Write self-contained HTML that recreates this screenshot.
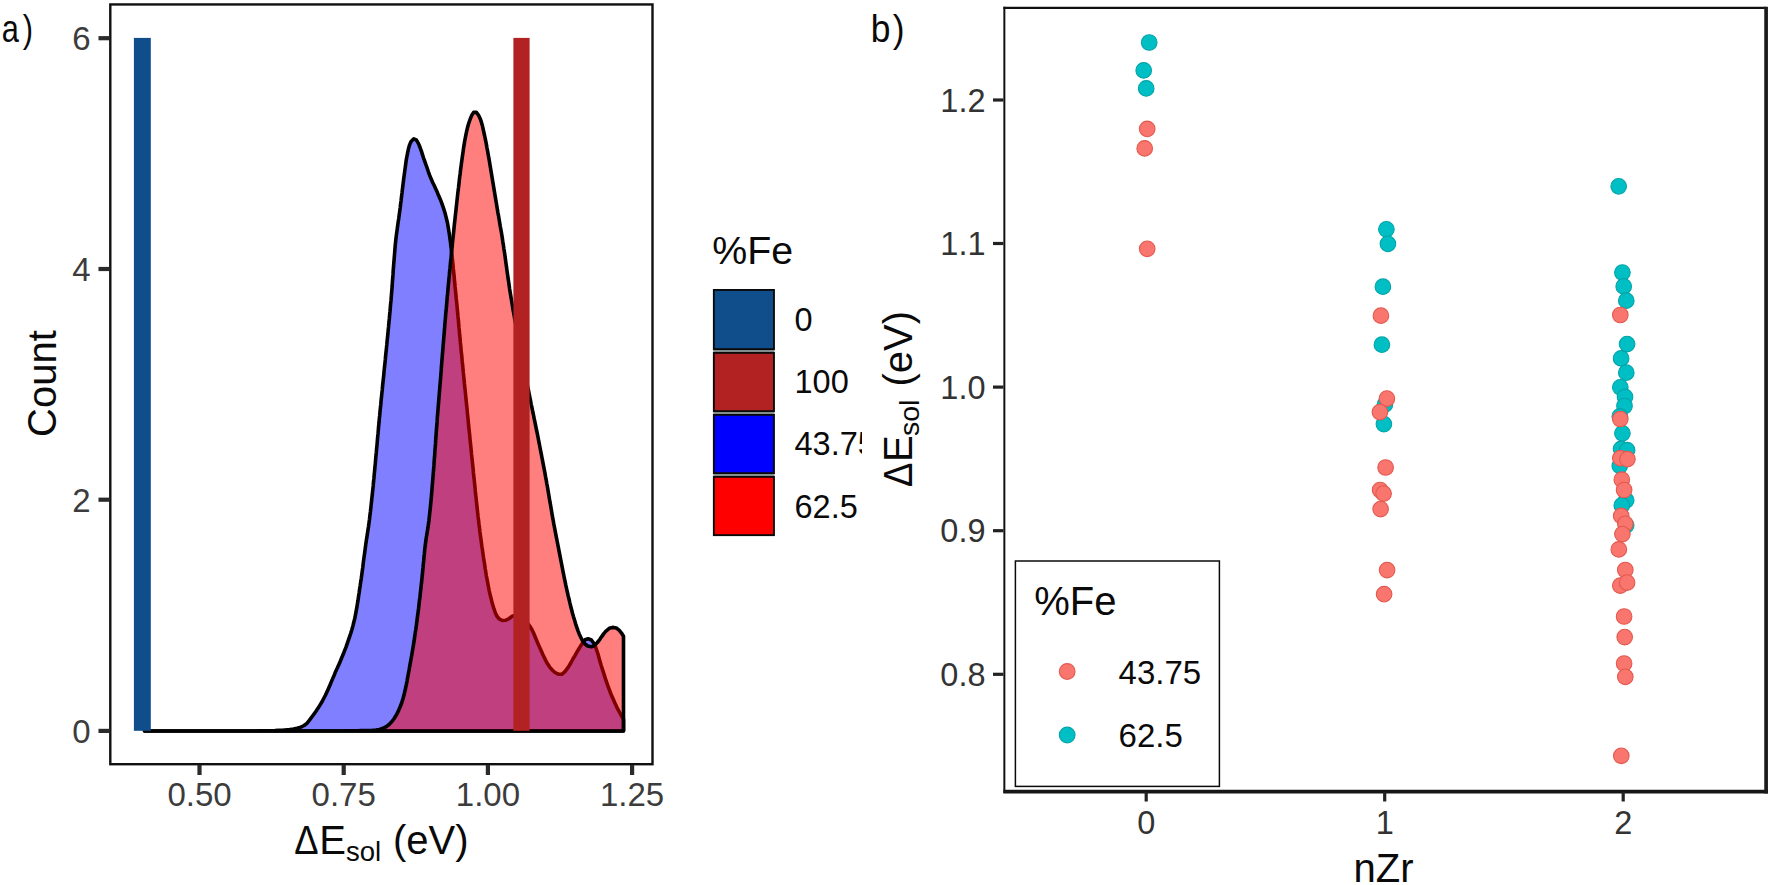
<!DOCTYPE html>
<html lang="en"><head><meta charset="utf-8"><title>Figure</title>
<style>html,body{margin:0;padding:0;background:#fff;overflow:hidden}svg{display:block}text{font-family:"Liberation Sans", sans-serif}.tk{font-size:33px;fill:#3c3c3c}.tkb{font-size:32.5px;fill:#333}.ti{font-size:40px;fill:#0a0a0a}.lg{font-size:32.5px;fill:#0a0a0a}</style></head><body>
<svg width="1770" height="885" viewBox="0 0 1770 885">
<rect x="0" y="0" width="1770" height="885" fill="#fff"/>
<defs><clipPath id="ca"><rect x="0" y="0" width="862" height="885"/></clipPath></defs>
<g clip-path="url(#ca)">
<text transform="translate(0,42.4) scale(0.78,1)" font-size="39.5" fill="#0a0a0a"><tspan x="2.4">a</tspan><tspan x="29.1">)</tspan></text>
<path d="M144.5 731.0 L148.2 731.0 L152.0 731.0 L155.7 731.0 L159.4 731.0 L163.1 731.0 L166.9 731.0 L170.6 731.0 L174.3 731.0 L178.0 731.0 L181.8 731.0 L185.5 731.0 L189.2 731.0 L192.9 731.0 L196.7 731.0 L200.4 731.0 L204.1 731.0 L207.8 731.0 L211.6 731.0 L215.3 731.0 L219.0 731.0 L222.8 731.0 L226.5 731.0 L230.2 731.0 L233.9 731.0 L237.7 731.0 L241.4 731.0 L245.1 731.0 L248.8 731.0 L252.6 731.0 L256.3 731.0 L260.0 730.9 L263.7 730.9 L267.5 730.8 L271.2 730.7 L274.9 730.6 L278.6 730.4 L282.4 730.2 L286.1 729.9 L289.8 729.5 L293.5 729.0 L297.1 728.3 L300.8 727.1 L304.1 725.5 L306.9 723.3 L309.3 720.4 L311.6 717.3 L313.8 714.2 L316.0 711.2 L318.1 708.1 L320.1 704.9 L322.0 701.8 L323.7 698.5 L325.4 695.2 L326.9 691.9 L328.5 688.4 L330.0 685.0 L331.4 681.6 L332.9 678.1 L334.4 674.7 L335.8 671.2 L337.4 667.8 L338.9 664.4 L340.4 661.0 L341.8 657.5 L343.3 654.1 L344.6 650.7 L346.0 647.2 L347.2 643.7 L348.4 640.2 L349.6 636.6 L350.8 633.1 L351.9 629.5 L352.9 625.9 L353.8 622.3 L354.7 618.7 L355.4 615.1 L356.1 611.4 L356.8 607.7 L357.4 604.1 L358.0 600.4 L358.5 596.7 L359.1 593.0 L359.6 589.3 L360.2 585.6 L360.7 581.9 L361.3 578.2 L361.8 574.5 L362.3 570.8 L362.8 567.2 L363.2 563.5 L363.7 559.8 L364.2 556.1 L364.7 552.4 L365.2 548.7 L365.7 545.0 L366.2 541.3 L366.8 537.6 L367.4 533.9 L367.9 530.3 L368.5 526.6 L369.0 522.9 L369.5 519.2 L369.9 515.5 L370.4 511.8 L370.8 508.1 L371.2 504.4 L371.6 500.7 L372.0 497.0 L372.4 493.3 L372.8 489.6 L373.2 485.9 L373.5 482.2 L373.9 478.5 L374.2 474.8 L374.6 471.1 L374.9 467.3 L375.3 463.6 L375.6 459.9 L375.9 456.2 L376.3 452.5 L376.6 448.8 L377.0 445.1 L377.3 441.4 L377.6 437.6 L378.0 433.9 L378.3 430.2 L378.6 426.5 L379.0 422.8 L379.3 419.1 L379.7 415.4 L380.0 411.7 L380.4 407.9 L380.8 404.2 L381.1 400.5 L381.5 396.8 L381.9 393.1 L382.3 389.4 L382.6 385.7 L383.0 382.0 L383.4 378.3 L383.8 374.6 L384.1 370.9 L384.5 367.2 L384.9 363.5 L385.3 359.7 L385.6 356.0 L386.0 352.3 L386.4 348.6 L386.8 344.9 L387.1 341.2 L387.5 337.5 L387.9 333.8 L388.2 330.1 L388.6 326.4 L388.9 322.7 L389.3 319.0 L389.6 315.3 L390.0 311.5 L390.3 307.8 L390.6 304.1 L391.0 300.4 L391.3 296.7 L391.6 293.0 L391.9 289.3 L392.2 285.5 L392.4 281.8 L392.7 278.1 L393.0 274.4 L393.2 270.7 L393.5 266.9 L393.8 263.2 L394.1 259.5 L394.4 255.8 L394.7 252.1 L395.0 248.4 L395.3 244.7 L395.7 241.0 L396.1 237.3 L396.6 233.6 L397.1 229.9 L397.6 226.2 L398.1 222.5 L398.7 218.8 L399.2 215.1 L399.7 211.4 L400.2 207.7 L400.6 204.0 L401.1 200.4 L401.5 196.7 L402.0 193.0 L402.4 189.3 L402.9 185.6 L403.3 181.9 L403.8 178.1 L404.3 174.4 L404.8 170.7 L405.3 167.0 L405.8 163.3 L406.3 159.6 L407.0 156.0 L407.7 152.4 L408.5 148.7 L409.5 145.1 L410.9 141.7 L413.8 138.8 L416.3 139.8 L418.5 143.6 L420.0 147.3 L421.3 150.9 L422.4 154.4 L423.5 157.8 L424.7 161.2 L425.9 164.7 L427.2 168.2 L428.4 171.8 L429.7 175.3 L431.1 178.8 L432.6 182.2 L434.2 185.6 L435.8 189.0 L437.3 192.3 L438.7 195.8 L440.2 199.2 L441.6 202.7 L442.8 206.2 L444.0 209.7 L445.1 213.3 L446.0 216.9 L446.9 220.5 L447.7 224.2 L448.3 227.8 L448.9 231.5 L449.5 235.2 L450.0 238.9 L450.5 242.6 L450.9 246.3 L451.4 250.0 L451.8 253.7 L452.2 257.4 L452.6 261.1 L453.0 264.8 L453.3 268.5 L453.7 272.2 L454.1 275.9 L454.4 279.6 L454.8 283.3 L455.1 287.0 L455.5 290.8 L455.9 294.5 L456.2 298.2 L456.6 301.9 L457.0 305.6 L457.3 309.3 L457.7 313.0 L458.0 316.7 L458.4 320.4 L458.7 324.1 L459.0 327.9 L459.4 331.6 L459.7 335.3 L460.1 339.0 L460.4 342.7 L460.8 346.4 L461.1 350.1 L461.5 353.8 L461.9 357.5 L462.2 361.2 L462.6 364.9 L463.0 368.7 L463.3 372.4 L463.7 376.1 L464.1 379.8 L464.4 383.5 L464.8 387.2 L465.2 390.9 L465.6 394.6 L465.9 398.3 L466.3 402.0 L466.7 405.7 L467.1 409.4 L467.4 413.1 L467.8 416.8 L468.2 420.6 L468.5 424.3 L468.9 428.0 L469.3 431.7 L469.7 435.4 L470.0 439.1 L470.4 442.8 L470.8 446.5 L471.2 450.2 L471.5 453.9 L471.9 457.6 L472.3 461.3 L472.7 465.0 L473.1 468.7 L473.4 472.5 L473.8 476.2 L474.2 479.9 L474.6 483.6 L475.0 487.3 L475.3 491.0 L475.7 494.7 L476.1 498.4 L476.5 502.1 L476.9 505.8 L477.3 509.5 L477.7 513.2 L478.1 516.9 L478.6 520.6 L479.0 524.3 L479.5 528.0 L479.9 531.7 L480.4 535.4 L480.9 539.1 L481.4 542.8 L481.9 546.5 L482.5 550.2 L483.0 553.9 L483.5 557.6 L484.1 561.2 L484.7 564.9 L485.2 568.6 L485.8 572.3 L486.4 576.0 L487.1 579.7 L487.8 583.3 L488.5 587.0 L489.2 590.6 L490.0 594.2 L490.9 597.8 L491.8 601.4 L492.8 605.0 L493.9 608.7 L495.2 612.4 L496.8 615.9 L498.8 618.6 L502.2 620.5 L505.7 620.3 L509.2 618.5 L512.3 616.1 L515.7 615.7 L519.5 616.8 L522.7 618.5 L525.6 621.0 L528.1 623.9 L530.3 626.8 L532.1 630.0 L533.7 633.3 L535.1 636.7 L536.6 640.3 L538.0 643.8 L539.6 647.2 L541.2 650.7 L542.7 654.2 L544.3 657.6 L545.9 660.9 L547.7 664.1 L549.7 667.1 L552.2 670.0 L555.0 672.5 L558.4 674.2 L561.8 674.3 L564.7 671.9 L567.2 668.7 L569.3 665.5 L571.1 662.3 L572.9 659.0 L574.8 655.9 L576.6 652.7 L578.5 649.5 L580.4 646.3 L582.6 643.0 L585.0 639.7 L588.1 638.8 L591.4 640.0 L593.6 643.0 L595.4 646.7 L596.7 650.2 L597.9 653.8 L598.9 657.4 L599.9 660.9 L600.9 664.5 L602.0 668.0 L603.2 671.6 L604.3 675.1 L605.4 678.7 L606.6 682.2 L607.8 685.7 L609.1 689.2 L610.4 692.7 L611.9 696.2 L613.4 699.6 L614.9 703.0 L616.5 706.4 L618.1 709.7 L619.9 713.0 L621.6 716.2 L623.5 719.5 L623.5 731.0 Z" fill="#0000FF" fill-opacity="0.5" stroke="#000" stroke-width="3.6" stroke-linejoin="round"/>
<path d="M144.5 731.0 L148.2 731.0 L151.8 731.0 L155.5 731.0 L159.2 731.0 L162.9 731.0 L166.5 731.0 L170.2 731.0 L173.9 731.0 L177.6 731.0 L181.2 731.0 L184.9 731.0 L188.6 731.0 L192.2 731.0 L195.9 731.0 L199.6 731.0 L203.3 731.0 L206.9 731.0 L210.6 731.0 L214.3 731.0 L218.0 731.0 L221.6 731.0 L225.3 731.0 L229.0 731.0 L232.6 731.0 L236.3 731.0 L240.0 731.0 L243.7 731.0 L247.3 731.0 L251.0 731.0 L254.7 731.0 L258.4 731.0 L262.0 731.0 L265.7 731.0 L269.4 731.0 L273.0 731.0 L276.7 731.0 L280.4 731.0 L284.1 731.0 L287.7 731.0 L291.4 731.0 L295.1 731.0 L298.8 731.0 L302.4 731.0 L306.1 731.0 L309.8 731.0 L313.4 731.0 L317.1 731.0 L320.8 731.0 L324.5 731.0 L328.1 731.0 L331.8 731.0 L335.5 731.0 L339.1 731.0 L342.8 731.0 L346.5 730.9 L350.2 730.8 L353.8 730.8 L357.5 730.7 L361.2 730.6 L364.9 730.6 L368.5 730.5 L372.2 730.4 L375.9 730.1 L379.5 729.5 L383.1 728.3 L386.3 726.6 L389.1 724.5 L391.7 721.8 L394.0 718.7 L396.0 715.6 L397.7 712.4 L399.2 709.0 L400.7 705.6 L401.9 702.1 L403.0 698.6 L404.0 695.1 L404.8 691.6 L405.6 688.0 L406.4 684.4 L407.1 680.8 L407.7 677.1 L408.4 673.5 L409.1 669.9 L409.7 666.3 L410.4 662.7 L411.0 659.0 L411.7 655.4 L412.3 651.8 L412.9 648.2 L413.5 644.6 L414.1 640.9 L414.6 637.3 L415.1 633.7 L415.7 630.0 L416.2 626.4 L416.7 622.8 L417.2 619.1 L417.6 615.5 L418.1 611.9 L418.6 608.2 L419.0 604.6 L419.4 600.9 L419.9 597.3 L420.3 593.6 L420.7 590.0 L421.1 586.3 L421.5 582.7 L421.9 579.0 L422.3 575.3 L422.6 571.7 L423.0 568.0 L423.3 564.4 L423.7 560.7 L424.0 557.1 L424.4 553.4 L424.7 549.8 L425.2 546.1 L425.6 542.5 L426.1 538.8 L426.7 535.2 L427.3 531.6 L427.9 527.9 L428.4 524.3 L428.9 520.7 L429.3 517.0 L429.7 513.4 L430.1 509.8 L430.5 506.1 L430.8 502.5 L431.2 498.8 L431.5 495.2 L431.8 491.5 L432.1 487.8 L432.4 484.2 L432.7 480.5 L433.0 476.9 L433.3 473.2 L433.6 469.5 L433.9 465.9 L434.1 462.2 L434.4 458.5 L434.7 454.9 L434.9 451.2 L435.2 447.5 L435.5 443.9 L435.7 440.2 L436.0 436.5 L436.2 432.9 L436.5 429.2 L436.8 425.5 L437.1 421.9 L437.3 418.2 L437.6 414.5 L437.9 410.9 L438.2 407.2 L438.5 403.5 L438.8 399.9 L439.1 396.2 L439.4 392.6 L439.7 388.9 L440.0 385.2 L440.3 381.6 L440.6 377.9 L440.9 374.2 L441.2 370.6 L441.4 366.9 L441.7 363.3 L442.0 359.6 L442.3 355.9 L442.6 352.3 L442.9 348.6 L443.2 345.0 L443.5 341.3 L443.8 337.6 L444.1 334.0 L444.4 330.3 L444.7 326.7 L445.0 323.0 L445.3 319.3 L445.6 315.7 L445.9 312.0 L446.3 308.4 L446.6 304.7 L446.9 301.1 L447.2 297.4 L447.6 293.7 L447.9 290.1 L448.2 286.4 L448.6 282.8 L448.9 279.1 L449.3 275.5 L449.6 271.8 L450.0 268.2 L450.3 264.5 L450.7 260.8 L451.1 257.2 L451.4 253.5 L451.8 249.9 L452.2 246.2 L452.5 242.6 L452.9 238.9 L453.3 235.3 L453.7 231.6 L454.0 228.0 L454.4 224.3 L454.8 220.7 L455.2 217.0 L455.6 213.4 L456.0 209.7 L456.4 206.1 L456.8 202.4 L457.2 198.8 L457.6 195.1 L458.0 191.5 L458.5 187.8 L458.9 184.2 L459.3 180.5 L459.7 176.9 L460.2 173.2 L460.6 169.6 L461.1 165.9 L461.6 162.3 L462.1 158.6 L462.6 155.0 L463.1 151.4 L463.6 147.8 L464.2 144.1 L464.8 140.5 L465.5 136.9 L466.2 133.3 L467.0 129.7 L467.9 126.1 L469.0 122.5 L470.2 119.1 L471.5 115.8 L473.6 112.4 L476.4 112.4 L478.7 115.5 L480.2 118.7 L481.4 122.2 L482.4 125.7 L483.2 129.3 L484.0 133.0 L484.8 136.6 L485.6 140.3 L486.3 143.9 L486.9 147.5 L487.6 151.1 L488.2 154.7 L488.9 158.3 L489.5 161.9 L490.1 165.5 L490.7 169.1 L491.3 172.7 L491.9 176.4 L492.5 180.0 L493.1 183.6 L493.7 187.3 L494.3 190.9 L494.9 194.5 L495.5 198.1 L496.1 201.7 L496.7 205.4 L497.3 209.0 L497.9 212.6 L498.6 216.2 L499.2 219.8 L499.8 223.5 L500.4 227.1 L501.1 230.7 L501.7 234.3 L502.3 237.9 L502.8 241.6 L503.4 245.2 L503.9 248.8 L504.5 252.5 L505.0 256.1 L505.5 259.7 L506.0 263.4 L506.5 267.0 L507.0 270.7 L507.5 274.3 L508.0 277.9 L508.6 281.6 L509.1 285.2 L509.6 288.8 L510.2 292.5 L510.8 296.1 L511.4 299.7 L512.0 303.3 L512.6 307.0 L513.2 310.6 L513.9 314.2 L514.5 317.8 L515.2 321.4 L515.9 325.0 L516.5 328.6 L517.2 332.2 L517.9 335.9 L518.6 339.5 L519.3 343.1 L519.9 346.7 L520.6 350.3 L521.3 353.9 L522.0 357.5 L522.7 361.1 L523.4 364.7 L524.1 368.3 L524.8 371.9 L525.5 375.5 L526.2 379.1 L526.9 382.7 L527.6 386.3 L528.4 389.9 L529.1 393.5 L529.8 397.1 L530.5 400.7 L531.2 404.3 L532.0 407.9 L532.7 411.5 L533.5 415.1 L534.2 418.7 L535.0 422.3 L535.7 425.9 L536.4 429.5 L537.2 433.1 L537.9 436.7 L538.6 440.3 L539.3 443.9 L540.0 447.5 L540.7 451.1 L541.4 454.7 L542.1 458.3 L542.8 461.9 L543.5 465.6 L544.2 469.2 L544.9 472.8 L545.5 476.4 L546.2 480.0 L546.8 483.6 L547.5 487.2 L548.1 490.9 L548.7 494.5 L549.3 498.1 L549.9 501.7 L550.6 505.3 L551.2 509.0 L551.8 512.6 L552.4 516.2 L553.1 519.8 L553.7 523.4 L554.4 527.0 L555.1 530.6 L555.8 534.3 L556.5 537.9 L557.2 541.5 L557.9 545.1 L558.6 548.7 L559.3 552.3 L560.0 555.9 L560.7 559.5 L561.4 563.1 L562.1 566.7 L562.8 570.3 L563.5 573.9 L564.2 577.5 L565.0 581.1 L565.7 584.7 L566.5 588.3 L567.3 591.9 L568.1 595.5 L569.0 599.0 L569.8 602.6 L570.7 606.2 L571.6 609.8 L572.5 613.3 L573.5 616.8 L574.6 620.3 L575.6 623.8 L576.8 627.3 L578.0 630.8 L579.3 634.2 L580.9 637.6 L582.7 641.0 L585.0 644.0 L587.7 646.0 L591.4 646.8 L594.5 645.4 L597.3 642.5 L599.7 639.6 L601.7 636.6 L603.8 633.6 L606.3 630.8 L609.3 628.3 L612.6 627.4 L616.3 628.0 L619.1 630.1 L621.5 633.1 L623.5 636.2 L623.5 731.0 Z" fill="#FF0000" fill-opacity="0.5" stroke="#000" stroke-width="3.6" stroke-linejoin="round"/>
<rect x="133.9" y="37.9" width="16.9" height="692.9" fill="#104E8B"/>
<rect x="513.4" y="37.9" width="16.2" height="692.9" fill="#B22222"/>
<rect x="110.3" y="4.45" width="542.2" height="759.75" fill="none" stroke="#101010" stroke-width="2.4"/>
<line x1="98.5" x2="109.4" y1="38.2" y2="38.2" stroke="#2b2b2b" stroke-width="4.2"/>
<text class="tk" x="90.5" y="50.0" text-anchor="end">6</text>
<line x1="98.5" x2="109.4" y1="269.0" y2="269.0" stroke="#2b2b2b" stroke-width="4.2"/>
<text class="tk" x="90.5" y="280.8" text-anchor="end">4</text>
<line x1="98.5" x2="109.4" y1="499.7" y2="499.7" stroke="#2b2b2b" stroke-width="4.2"/>
<text class="tk" x="90.5" y="511.5" text-anchor="end">2</text>
<line x1="98.5" x2="109.4" y1="730.9" y2="730.9" stroke="#2b2b2b" stroke-width="4.2"/>
<text class="tk" x="90.5" y="742.7" text-anchor="end">0</text>
<line x1="199.5" x2="199.5" y1="765" y2="775" stroke="#2b2b2b" stroke-width="4.2"/>
<text class="tk" x="199.5" y="806.2" text-anchor="middle">0.50</text>
<line x1="343.7" x2="343.7" y1="765" y2="775" stroke="#2b2b2b" stroke-width="4.2"/>
<text class="tk" x="343.7" y="806.2" text-anchor="middle">0.75</text>
<line x1="487.9" x2="487.9" y1="765" y2="775" stroke="#2b2b2b" stroke-width="4.2"/>
<text class="tk" x="487.9" y="806.2" text-anchor="middle">1.00</text>
<line x1="632.1" x2="632.1" y1="765" y2="775" stroke="#2b2b2b" stroke-width="4.2"/>
<text class="tk" x="632.1" y="806.2" text-anchor="middle">1.25</text>
<text class="ti" transform="translate(56,383.5) rotate(-90)" text-anchor="middle">Count</text>
<text class="ti" y="853.6"><tspan x="294.3" textLength="24.3" lengthAdjust="spacingAndGlyphs">Δ</tspan><tspan x="319.2">E</tspan><tspan x="346" dy="7.2" font-size="27.5">sol</tspan><tspan dy="-7.2"> </tspan><tspan x="393">(eV)</tspan></text>
<text x="712.2" y="264" font-size="39.3" fill="#0a0a0a">%Fe</text>
<rect x="713.4" y="290" width="61" height="246" fill="#8f9b9b"/>
<rect x="713.85" y="289.95" width="60.1" height="59.20" fill="#104E8B" stroke="#0a0a0a" stroke-width="1.9"/>
<text class="lg" x="794.5" y="331.2">0</text>
<rect x="713.85" y="352.85" width="60.1" height="58.30" fill="#B22222" stroke="#0a0a0a" stroke-width="1.9"/>
<text class="lg" x="794.5" y="393.3">100</text>
<rect x="713.85" y="414.85" width="60.1" height="58.30" fill="#0000FF" stroke="#0a0a0a" stroke-width="1.9"/>
<text class="lg" x="794.5" y="455.4">43.75</text>
<rect x="713.85" y="476.85" width="60.1" height="58.30" fill="#FF0000" stroke="#0a0a0a" stroke-width="1.9"/>
<text class="lg" x="794.5" y="517.5">62.5</text>
</g>
<text transform="translate(0,41.9) scale(0.92,1)" font-size="38.5" fill="#0a0a0a"><tspan x="946.5">b</tspan><tspan x="970.5">)</tspan></text>
<circle cx="1149.2" cy="42.5" r="7.8" fill="#00BFC4" stroke="#00A4A9" stroke-width="1.1"/>
<circle cx="1143.7" cy="70.4" r="7.8" fill="#00BFC4" stroke="#00A4A9" stroke-width="1.1"/>
<circle cx="1146.2" cy="88.4" r="7.8" fill="#00BFC4" stroke="#00A4A9" stroke-width="1.1"/>
<circle cx="1147.2" cy="128.9" r="7.8" fill="#F8766D" stroke="#E3594F" stroke-width="1.1"/>
<circle cx="1144.7" cy="148.4" r="7.8" fill="#F8766D" stroke="#E3594F" stroke-width="1.1"/>
<circle cx="1147.2" cy="248.8" r="7.8" fill="#F8766D" stroke="#E3594F" stroke-width="1.1"/>
<circle cx="1386.4" cy="229.3" r="7.8" fill="#00BFC4" stroke="#00A4A9" stroke-width="1.1"/>
<circle cx="1387.9" cy="243.8" r="7.8" fill="#00BFC4" stroke="#00A4A9" stroke-width="1.1"/>
<circle cx="1382.9" cy="286.7" r="7.8" fill="#00BFC4" stroke="#00A4A9" stroke-width="1.1"/>
<circle cx="1381.9" cy="344.7" r="7.8" fill="#00BFC4" stroke="#00A4A9" stroke-width="1.1"/>
<circle cx="1384.9" cy="404.6" r="7.8" fill="#00BFC4" stroke="#00A4A9" stroke-width="1.1"/>
<circle cx="1383.9" cy="424.1" r="7.8" fill="#00BFC4" stroke="#00A4A9" stroke-width="1.1"/>
<circle cx="1380.9" cy="315.7" r="7.8" fill="#F8766D" stroke="#E3594F" stroke-width="1.1"/>
<circle cx="1386.9" cy="398.6" r="7.8" fill="#F8766D" stroke="#E3594F" stroke-width="1.1"/>
<circle cx="1379.9" cy="412.1" r="7.8" fill="#F8766D" stroke="#E3594F" stroke-width="1.1"/>
<circle cx="1385.6" cy="467.5" r="7.8" fill="#F8766D" stroke="#E3594F" stroke-width="1.1"/>
<circle cx="1380.1" cy="490.0" r="7.8" fill="#F8766D" stroke="#E3594F" stroke-width="1.1"/>
<circle cx="1383.6" cy="493.6" r="7.8" fill="#F8766D" stroke="#E3594F" stroke-width="1.1"/>
<circle cx="1380.6" cy="509.1" r="7.8" fill="#F8766D" stroke="#E3594F" stroke-width="1.1"/>
<circle cx="1387.1" cy="570.1" r="7.8" fill="#F8766D" stroke="#E3594F" stroke-width="1.1"/>
<circle cx="1384.1" cy="594.2" r="7.8" fill="#F8766D" stroke="#E3594F" stroke-width="1.1"/>
<circle cx="1618.7" cy="186.3" r="7.8" fill="#00BFC4" stroke="#00A4A9" stroke-width="1.1"/>
<circle cx="1622.4" cy="272.6" r="7.8" fill="#00BFC4" stroke="#00A4A9" stroke-width="1.1"/>
<circle cx="1623.7" cy="286.4" r="7.8" fill="#00BFC4" stroke="#00A4A9" stroke-width="1.1"/>
<circle cx="1626.3" cy="300.7" r="7.8" fill="#00BFC4" stroke="#00A4A9" stroke-width="1.1"/>
<circle cx="1627.1" cy="344.1" r="7.8" fill="#00BFC4" stroke="#00A4A9" stroke-width="1.1"/>
<circle cx="1621.1" cy="358.4" r="7.8" fill="#00BFC4" stroke="#00A4A9" stroke-width="1.1"/>
<circle cx="1626.3" cy="372.7" r="7.8" fill="#00BFC4" stroke="#00A4A9" stroke-width="1.1"/>
<circle cx="1620.3" cy="387.3" r="7.8" fill="#00BFC4" stroke="#00A4A9" stroke-width="1.1"/>
<circle cx="1625.0" cy="396.9" r="7.8" fill="#00BFC4" stroke="#00A4A9" stroke-width="1.1"/>
<circle cx="1624.5" cy="406.0" r="7.8" fill="#00BFC4" stroke="#00A4A9" stroke-width="1.1"/>
<circle cx="1619.8" cy="416.4" r="7.8" fill="#00BFC4" stroke="#00A4A9" stroke-width="1.1"/>
<circle cx="1622.4" cy="433.3" r="7.8" fill="#00BFC4" stroke="#00A4A9" stroke-width="1.1"/>
<circle cx="1621.1" cy="448.9" r="7.8" fill="#00BFC4" stroke="#00A4A9" stroke-width="1.1"/>
<circle cx="1627.1" cy="450.2" r="7.8" fill="#00BFC4" stroke="#00A4A9" stroke-width="1.1"/>
<circle cx="1619.8" cy="465.8" r="7.8" fill="#00BFC4" stroke="#00A4A9" stroke-width="1.1"/>
<circle cx="1626.2" cy="500.3" r="7.8" fill="#00BFC4" stroke="#00A4A9" stroke-width="1.1"/>
<circle cx="1621.8" cy="505.3" r="7.8" fill="#00BFC4" stroke="#00A4A9" stroke-width="1.1"/>
<circle cx="1626.2" cy="525.3" r="7.8" fill="#00BFC4" stroke="#00A4A9" stroke-width="1.1"/>
<circle cx="1620.3" cy="315.0" r="7.8" fill="#F8766D" stroke="#E3594F" stroke-width="1.1"/>
<circle cx="1620.3" cy="419.0" r="7.8" fill="#F8766D" stroke="#E3594F" stroke-width="1.1"/>
<circle cx="1620.3" cy="458.2" r="7.8" fill="#F8766D" stroke="#E3594F" stroke-width="1.1"/>
<circle cx="1627.4" cy="459.2" r="7.8" fill="#F8766D" stroke="#E3594F" stroke-width="1.1"/>
<circle cx="1621.8" cy="479.7" r="7.8" fill="#F8766D" stroke="#E3594F" stroke-width="1.1"/>
<circle cx="1624.1" cy="490.0" r="7.8" fill="#F8766D" stroke="#E3594F" stroke-width="1.1"/>
<circle cx="1621.2" cy="515.9" r="7.8" fill="#F8766D" stroke="#E3594F" stroke-width="1.1"/>
<circle cx="1625.3" cy="523.8" r="7.8" fill="#F8766D" stroke="#E3594F" stroke-width="1.1"/>
<circle cx="1622.4" cy="534.1" r="7.8" fill="#F8766D" stroke="#E3594F" stroke-width="1.1"/>
<circle cx="1618.8" cy="549.4" r="7.8" fill="#F8766D" stroke="#E3594F" stroke-width="1.1"/>
<circle cx="1625.3" cy="570.0" r="7.8" fill="#F8766D" stroke="#E3594F" stroke-width="1.1"/>
<circle cx="1620.3" cy="585.6" r="7.8" fill="#F8766D" stroke="#E3594F" stroke-width="1.1"/>
<circle cx="1627.1" cy="582.6" r="7.8" fill="#F8766D" stroke="#E3594F" stroke-width="1.1"/>
<circle cx="1624.1" cy="616.5" r="7.8" fill="#F8766D" stroke="#E3594F" stroke-width="1.1"/>
<circle cx="1624.7" cy="637.1" r="7.8" fill="#F8766D" stroke="#E3594F" stroke-width="1.1"/>
<circle cx="1624.1" cy="663.5" r="7.8" fill="#F8766D" stroke="#E3594F" stroke-width="1.1"/>
<circle cx="1625.3" cy="676.8" r="7.8" fill="#F8766D" stroke="#E3594F" stroke-width="1.1"/>
<circle cx="1621.3" cy="755.8" r="7.8" fill="#F8766D" stroke="#E3594F" stroke-width="1.1"/>
<line x1="1003.4" x2="1766" y1="7.9" y2="7.9" stroke="#111" stroke-width="2.2"/>
<line x1="1004.35" x2="1004.35" y1="6.8" y2="793" stroke="#111" stroke-width="2"/>
<line x1="1003.35" x2="1768" y1="791.7" y2="791.7" stroke="#161616" stroke-width="3.7"/>
<line x1="1766.1" x2="1766.1" y1="6.8" y2="793.5" stroke="#1c1c1c" stroke-width="3.7"/>
<line x1="993" x2="1003.4" y1="100.0" y2="100.0" stroke="#222" stroke-width="3.2"/>
<text class="tkb" x="985.5" y="111.6" text-anchor="end">1.2</text>
<line x1="993" x2="1003.4" y1="243.5" y2="243.5" stroke="#222" stroke-width="3.2"/>
<text class="tkb" x="985.5" y="255.1" text-anchor="end">1.1</text>
<line x1="993" x2="1003.4" y1="387.1" y2="387.1" stroke="#222" stroke-width="3.2"/>
<text class="tkb" x="985.5" y="398.7" text-anchor="end">1.0</text>
<line x1="993" x2="1003.4" y1="530.7" y2="530.7" stroke="#222" stroke-width="3.2"/>
<text class="tkb" x="985.5" y="542.3" text-anchor="end">0.9</text>
<line x1="993" x2="1003.4" y1="674.3" y2="674.3" stroke="#222" stroke-width="3.2"/>
<text class="tkb" x="985.5" y="685.9" text-anchor="end">0.8</text>
<line x1="1146.2" x2="1146.2" y1="792" y2="801.5" stroke="#222" stroke-width="3.2"/>
<text class="tkb" x="1146.2" y="833.6" text-anchor="middle">0</text>
<line x1="1384.7" x2="1384.7" y1="792" y2="801.5" stroke="#222" stroke-width="3.2"/>
<text class="tkb" x="1384.7" y="833.6" text-anchor="middle">1</text>
<line x1="1623.2" x2="1623.2" y1="792" y2="801.5" stroke="#222" stroke-width="3.2"/>
<text class="tkb" x="1623.2" y="833.6" text-anchor="middle">2</text>
<text x="1383.6" y="881.7" font-size="40" fill="#0a0a0a" text-anchor="middle">nZr</text>
<text transform="translate(911.7,0) rotate(-90)" font-size="40" fill="#0a0a0a"><tspan x="-486.9" textLength="24.3" lengthAdjust="spacingAndGlyphs">Δ</tspan><tspan x="-462">E</tspan><tspan x="-436" dy="6.8" font-size="28.5">sol</tspan><tspan dy="-6.8"> </tspan><tspan x="-386.5">(eV)</tspan></text>
<rect x="1015.4" y="561" width="204" height="225.4" fill="#fff" stroke="#0a0a0a" stroke-width="1.5"/>
<text x="1034.3" y="614.7" font-size="40" fill="#0a0a0a">%Fe</text>
<circle cx="1067.2" cy="671.5" r="7.85" fill="#F8766D" stroke="#E3594F" stroke-width="1.1"/>
<circle cx="1067.2" cy="735" r="7.85" fill="#00BFC4" stroke="#00A4A9" stroke-width="1.1"/>
<text x="1118.6" y="683.7" font-size="33" fill="#0a0a0a">43.75</text>
<text x="1118.6" y="747.2" font-size="33" fill="#0a0a0a">62.5</text>
</svg>
</body></html>
